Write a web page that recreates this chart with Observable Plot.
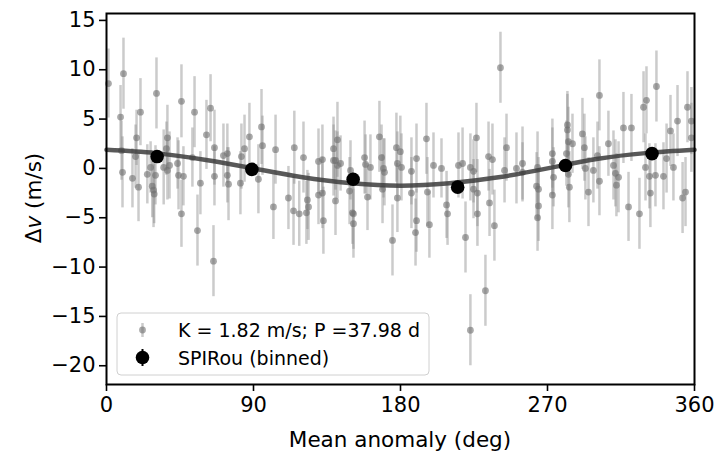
<!DOCTYPE html>
<html>
<head>
<meta charset="utf-8">
<script src="https://cdn.jsdelivr.net/npm/d3@7"></script>
<script src="https://cdn.jsdelivr.net/npm/@observablehq/plot@0.6"></script>
<style>
  html, body { margin: 0; padding: 0; background: white; }
  #chart { position: relative; width: 720px; height: 461px; }
</style>
</head>
<body>
<div id="chart"></div>
<script>
// Phase-folded SPIRou RVs: mean anomaly (deg), Δv (m/s), uncertainty (m/s)
const phase = [1.2,10.4,8.6,9.2,9.8,15.9,17.8,18.4,19.6,20.8,25.0,27.0,28.0,28.8,29.2,30.6,30.0,35.0,37.3,37.3,36.7,38.6,43.5,44.1,45.9,45.9,47.1,53.9,52.6,55.7,57.5,61.2,63.7,66.1,66.1,65.5,71.6,74.0,74.7,74.0,82.6,84.5,82.0,87.5,94.9,95.5,93.0,103.5,102.2,115.0,111.4,114.5,118.0,120.6,123.0,123.7,122.4,129.8,132.2,129.8,132.2,132.8,139.0,139.0,141.4,140.2,141.4,143.3,140.2,149.4,148.8,150.6,151.2,151.2,158.0,158.6,159.8,161.6,167.1,168.4,169.6,170.2,169.0,175.1,177.5,179.9,178.1,180.6,178.1,186.7,186.7,189.8,189.8,189.2,195.9,196.5,197.7,200.2,205.1,208.2,208.8,215.5,218.0,219.8,222.8,222.8,224.7,226.5,224.7,227.1,227.1,232.0,233.9,236.3,234.5,237.5,241.2,244.9,243.7,251.0,254.7,254.7,263.3,264.5,264.5,263.9,263.9,273.0,273.0,273.7,273.0,282.2,282.2,282.8,285.3,281.6,282.8,283.4,291.4,292.6,293.2,295.1,298.1,300.6,301.8,301.8,307.3,310.4,311.6,312.2,313.5,316.5,321.4,319.6,326.3,328.8,330.6,330.0,332.4,333.0,336.1,336.7,341.0,342.9,345.3,347.1,349.6,352.7,354.5,355.7,358.1,358.1];
const rv = [8.6,9.6,5.2,1.8,-0.4,-1.0,1.2,3.1,-1.9,5.7,-0.6,0.1,-1.8,-2.2,-2.6,7.6,-0.7,0.1,-0.2,3.1,2.0,0.3,0.5,-0.7,6.8,-4.6,-0.8,5.7,1.1,-6.3,-1.5,3.4,6.1,2.1,-0.8,-9.4,1.3,-0.7,-1.6,1.5,1.2,2.0,-1.5,3.2,4.2,2.3,-1.1,1.9,-3.9,2.1,-3.0,-4.3,-4.6,1.1,-3.2,-3.9,-4.5,0.7,0.9,-2.7,-2.5,-5.3,2.0,0.8,2.9,0.8,0.3,0.5,-3.3,-0.2,-2.3,-4.5,-4.6,-5.6,1.1,0.4,-2.9,0.1,3.2,1.1,0.0,-0.4,-2.1,-7.3,2.1,1.7,0.5,0.1,-3.0,-0.3,-2.5,1.0,-5.3,-6.5,3.0,-2.4,-5.7,0.3,0.0,-3.7,-4.6,0.3,0.5,-7.0,-16.4,0.1,-0.3,3.1,-2.1,-2.5,-4.6,-12.4,1.2,0.9,-3.5,-5.8,10.2,2.1,-0.2,0.0,0.5,-0.4,-1.8,-2.1,-3.8,-5.0,0.1,1.5,0.7,-0.9,-2.7,4.4,3.9,2.7,2.5,1.5,-0.6,-1.9,3.5,2.1,0.0,-2.4,-0.2,1.3,7.4,-1.3,2.5,0.3,-0.5,-1.7,-0.9,4.1,4.1,-3.9,-4.6,6.2,6.9,0.1,-0.8,-2.5,-0.7,8.3,-0.8,1.0,3.8,0.1,4.8,-3.0,-2.4,6.2,4.8,3.1];
const rvErr = [3.5,3.6,3.2,3.0,3.6,3.0,3.2,2.8,3.5,3.4,3.0,2.6,3.2,3.8,3.0,3.6,3.0,3.8,3.0,3.3,2.7,3.4,2.6,3.5,3.7,3.4,3.0,3.6,3.0,3.6,3.2,3.5,3.4,3.8,3.0,3.6,3.2,2.8,3.7,3.0,3.3,3.4,3.2,3.4,3.8,3.0,3.5,3.5,3.3,3.7,3.2,3.5,3.3,3.6,3.0,3.4,3.2,3.3,3.5,3.0,3.6,3.4,3.2,3.6,3.8,3.0,3.4,2.8,3.5,3.0,3.4,3.2,3.6,3.5,3.7,3.0,3.4,3.3,3.6,3.3,3.0,3.4,3.5,3.6,3.5,3.6,3.2,3.4,3.5,3.4,3.6,3.5,3.2,3.4,3.6,3.5,3.4,3.3,3.0,3.4,3.2,3.3,3.6,3.6,3.6,3.4,3.2,3.5,3.0,3.4,3.3,3.6,3.5,3.6,3.4,3.6,3.6,3.4,3.3,3.6,3.7,3.0,3.4,3.2,3.6,3.4,3.6,3.5,3.4,3.0,3.5,3.4,3.6,3.5,3.0,3.3,3.4,3.6,3.6,3.4,3.2,3.5,3.3,3.4,3.6,3.5,3.3,3.5,3.4,3.2,3.6,3.6,3.4,3.5,3.6,3.6,3.4,3.4,3.3,3.5,3.2,3.6,3.4,3.5,3.6,3.4,3.6,3.6,3.5,3.6,3.4,3.5];

// Binned points
const binPhase = [31, 89, 151, 215, 281, 334];
const binRv = [1.2, -0.1, -1.1, -1.9, 0.3, 1.5];
const binErr = [0.6, 0.6, 0.6, 0.6, 0.6, 0.6];

// Keplerian model
const modelPhase = [0, 30, 60, 90, 120, 150, 180, 210, 240, 270, 300, 330, 360];
const modelRv = [1.88, 1.55, 0.88, 0.0, -0.9, -1.5, -1.75, -1.5, -0.9, 0.0, 0.95, 1.55, 1.88];

const xTicks = [0, 90, 180, 270, 360];
const yTicks = [-20, -15, -10, -5, 0, 5, 10, 15];
const xLabel = "Mean anomaly (deg)";
const legendLabels = ["K = 1.82 m/s; P =37.98 d", "SPIRou (binned)"];

const points = phase.map((p, i) => ({phase: p, rv: rv[i], err: rvErr[i]}));
const binned = binPhase.map((p, i) => ({phase: p, rv: binRv[i], err: binErr[i]}));
const model = modelPhase.map((p, i) => ({phase: p, rv: modelRv[i]}));

const FONT = "DejaVu Sans, sans-serif";

const plot = Plot.plot({
  width: 720,
  height: 461,
  marginLeft: 106,
  marginRight: 26,
  marginTop: 13,
  marginBottom: 77,
  style: {fontFamily: FONT, fontSize: "21px", color: "black", background: "white"},
  x: {domain: [0, 360]},
  y: {domain: [-21.9, 15.7]},
  marks: [
    Plot.ruleX(points, {x: "phase", y1: d => d.rv - d.err, y2: d => d.rv + d.err, stroke: "#8c8c8c", strokeOpacity: 0.45, strokeWidth: 2.5}),
    Plot.dot(points, {x: "phase", y: "rv", r: 3.4, fill: "#707070", fillOpacity: 0.6, stroke: "none"}),
    Plot.line(model, {x: "phase", y: "rv", curve: "natural", stroke: "#3c3c3c", strokeOpacity: 0.85, strokeWidth: 4.5}),
    Plot.ruleX(binned, {x: "phase", y1: d => d.rv - d.err, y2: d => d.rv + d.err, stroke: "black", strokeWidth: 2}),
    Plot.dot(binned, {x: "phase", y: "rv", r: 6.8, fill: "black", stroke: "none"}),
    Plot.frame({stroke: "black", strokeWidth: 2}),
    Plot.axisX({ticks: xTicks, tickSize: 7, tickPadding: 6, strokeWidth: 1.6, label: null, fontSize: 21}),
    Plot.axisY({ticks: yTicks, tickSize: 7, tickPadding: 4, strokeWidth: 1.6, label: null, fontSize: 21})
  ]
});

document.getElementById("chart").appendChild(plot);

// axis titles and legend
const svg = d3.select(plot);
svg.append("text")
  .attr("x", 400).attr("y", 447)
  .attr("text-anchor", "middle")
  .attr("font-family", FONT).attr("font-size", 21.5)
  .attr("fill", "black")
  .text(xLabel);

const yl = svg.append("text")
  .attr("transform", "translate(41,198) rotate(-90)")
  .attr("text-anchor", "middle")
  .attr("font-family", FONT).attr("font-size", 21.5)
  .attr("fill", "black");
yl.append("tspan").text("Δ");
yl.append("tspan").attr("font-style", "italic").text("v");
yl.append("tspan").text(" (m/s)");

const lg = svg.append("g");
lg.append("rect")
  .attr("x", 117).attr("y", 313).attr("width", 312).attr("height", 62)
  .attr("rx", 4).attr("fill", "white").attr("fill-opacity", 0.8)
  .attr("stroke", "#d0d0d0").attr("stroke-width", 1);
lg.append("line").attr("x1", 142.5).attr("x2", 142.5).attr("y1", 323).attr("y2", 337)
  .attr("stroke", "#8c8c8c").attr("stroke-opacity", 0.45).attr("stroke-width", 2.5);
lg.append("circle").attr("cx", 142.5).attr("cy", 330).attr("r", 3.4)
  .attr("fill", "#707070").attr("fill-opacity", 0.6);
lg.append("line").attr("x1", 142.5).attr("x2", 142.5).attr("y1", 349).attr("y2", 366)
  .attr("stroke", "black").attr("stroke-width", 2);
lg.append("circle").attr("cx", 142.5).attr("cy", 357.5).attr("r", 6.8).attr("fill", "black");
lg.selectAll("text.lab").data(legendLabels).join("text")
  .attr("class", "lab")
  .attr("x", 178).attr("y", (d, i) => 337 + i * 28)
  .attr("text-anchor", "start")
  .attr("font-family", FONT).attr("font-size", 19)
  .attr("fill", "black")
  .text(d => d);
</script>
</body>
</html>
